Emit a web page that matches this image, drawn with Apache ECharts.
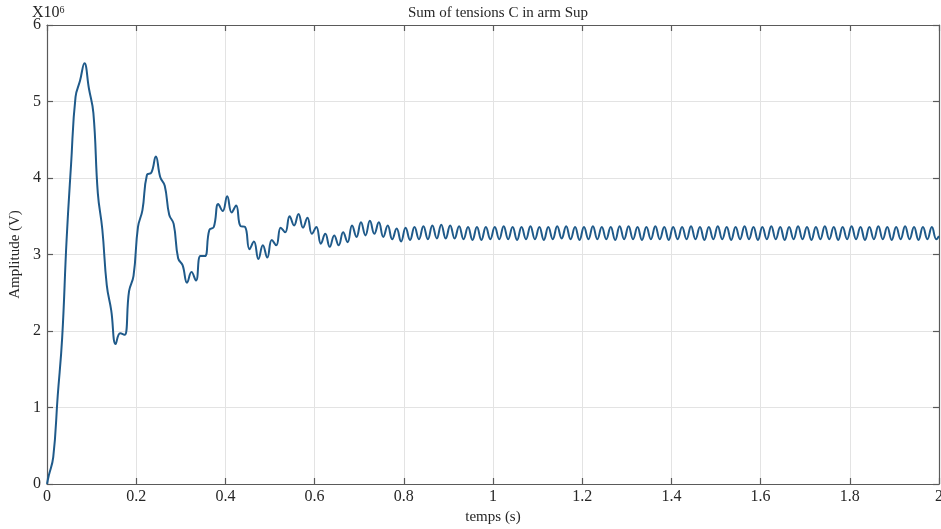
<!DOCTYPE html>
<html>
<head>
<meta charset="utf-8">
<title>Sum of tensions C in arm Sup</title>
<script src="https://cdn.jsdelivr.net/npm/echarts@6/dist/echarts.min.js"></script>
<style>
  html, body { margin: 0; padding: 0; background: #ffffff; }
  #chart { width: 941px; height: 529px; }
</style>
</head>
<body>
<div id="chart"></div>
<script>
// Sum of the arm capacitor voltages (upper arm), in units of 10^6 V.
// Samples are taken every 10 ms starting at 4 ms, so they land on the
// crests and troughs of the 50 Hz ripple.
const sampleStart = 0.004;
const sampleStep = 0.01;

// Start-up transient, 0.004 s .. 0.794 s
const transientValues = [
  0.11, 0.35, 1.15, 1.91, 3.20, 4.18, 5.06, 5.27, 5.50, 5.17,
  4.85, 3.80, 3.33, 2.60, 2.27, 1.83, 1.97, 1.95, 2.52, 2.72,
  3.36, 3.58, 4.04, 4.07, 4.28, 4.01, 3.90, 3.52, 3.40, 2.95,
  2.86, 2.63, 2.77, 2.66, 2.98, 2.98, 3.32, 3.36, 3.66, 3.57,
  3.76, 3.55, 3.64, 3.37, 3.36, 3.07, 3.17, 2.94, 3.12, 2.96,
  3.19, 3.12, 3.35, 3.29, 3.50, 3.38, 3.53, 3.35, 3.48, 3.27,
  3.36, 3.14, 3.27, 3.10, 3.25, 3.12, 3.29, 3.16, 3.38, 3.23,
  3.42, 3.25, 3.44, 3.27, 3.42, 3.23, 3.38, 3.20, 3.34, 3.17
];

// Steady state with ripple, 0.804 s .. 1.994 s
const steadyValues = [
  3.35, 3.19, 3.36, 3.20, 3.37, 3.20, 3.38, 3.21, 3.39, 3.21,
  3.38, 3.21, 3.37, 3.20, 3.36, 3.19, 3.36, 3.19, 3.36, 3.20,
  3.36, 3.20, 3.37, 3.20, 3.36, 3.19, 3.36, 3.20, 3.37, 3.20,
  3.36, 3.19, 3.36, 3.20, 3.37, 3.21, 3.37, 3.20, 3.36, 3.19,
  3.36, 3.20, 3.37, 3.20, 3.36, 3.20, 3.36, 3.19, 3.37, 3.20,
  3.37, 3.20, 3.36, 3.19, 3.36, 3.20, 3.37, 3.20, 3.36, 3.19,
  3.36, 3.20, 3.36, 3.20, 3.37, 3.20, 3.36, 3.19, 3.36, 3.20,
  3.37, 3.20, 3.36, 3.19, 3.36, 3.20, 3.37, 3.20, 3.36, 3.19,
  3.36, 3.20, 3.37, 3.20, 3.36, 3.19, 3.36, 3.20, 3.37, 3.20,
  3.36, 3.19, 3.36, 3.20, 3.37, 3.20, 3.36, 3.19, 3.36, 3.20,
  3.37, 3.20, 3.36, 3.19, 3.36, 3.20, 3.37, 3.20, 3.36, 3.19,
  3.36, 3.20, 3.37, 3.20, 3.36, 3.19, 3.36, 3.20, 3.36, 3.20
];

// Value at the very start and end of the record
const startPoint = [0, 0];
const endPoint = [2, 3.24];

const xTicks = { min: 0, max: 2, interval: 0.2 };
const yTicks = { min: 0, max: 6, interval: 1 };

const FONT = '"Liberation Serif", "DejaVu Serif", serif';
const TEXT = '#262626';
const AXIS = '#5a5a5a';

const sampled = transientValues.concat(steadyValues);
const seriesData = [startPoint].concat(
  sampled.map((v, k) => [+(sampleStart + k * sampleStep).toFixed(3), v]),
  [endPoint]
);

const chart = echarts.init(document.getElementById('chart'), null, { renderer: 'canvas' });

// Box axes on the top and right edges: line and inward ticks only
const frameAxis = {
  axisLine: { show: true, onZero: false, lineStyle: { color: AXIS, width: 1.2 } },
  axisTick: { show: true, inside: true, length: 6, lineStyle: { color: AXIS, width: 1.2 } },
  axisLabel: { show: false },
  splitLine: { show: false }
};

chart.setOption({
  animation: false,
  backgroundColor: '#ffffff',
  title: [
    {
      text: 'Sum of tensions C in arm Sup',
      left: 493, top: 1, textAlign: 'center',
      textStyle: { fontFamily: FONT, fontSize: 15, fontWeight: 'normal', color: TEXT }
    },
    {
      text: 'X10{sup|6}',
      left: 27, top: 0,
      textStyle: {
        fontFamily: FONT, fontSize: 16, fontWeight: 'normal', color: TEXT,
        rich: { sup: { fontFamily: FONT, fontSize: 10, color: TEXT, verticalAlign: 'top', padding: [0, 0, 6, 0] } }
      }
    }
  ],
  grid: {
    left: 47, right: 2, top: 25, bottom: 45,
    containLabel: false, outerBoundsMode: 'none'
  },
  xAxis: [
    {
      type: 'value', position: 'bottom',
      min: xTicks.min, max: xTicks.max, interval: xTicks.interval,
      name: 'temps (s)', nameLocation: 'middle', nameGap: 22,
      nameTextStyle: { fontFamily: FONT, fontSize: 15, color: TEXT },
      axisLine: { show: true, onZero: false, lineStyle: { color: AXIS, width: 1.2 } },
      axisTick: { show: true, inside: true, length: 6, lineStyle: { color: AXIS, width: 1.2 } },
      axisLabel: { fontFamily: FONT, fontSize: 16, color: TEXT, margin: 5 },
      splitLine: { show: true, lineStyle: { color: '#e3e3e3', width: 1 } }
    },
    Object.assign({
      type: 'value', position: 'top',
      min: xTicks.min, max: xTicks.max, interval: xTicks.interval
    }, frameAxis)
  ],
  yAxis: [
    {
      type: 'value', position: 'left',
      min: yTicks.min, max: yTicks.max, interval: yTicks.interval,
      name: 'Amplitude (V)', nameLocation: 'middle', nameGap: 21, nameRotate: 90,
      nameTextStyle: { fontFamily: FONT, fontSize: 15, color: TEXT },
      axisLine: { show: true, onZero: false, lineStyle: { color: AXIS, width: 1.2 } },
      axisTick: { show: true, inside: true, length: 6, lineStyle: { color: AXIS, width: 1.2 } },
      axisLabel: { fontFamily: FONT, fontSize: 16, color: TEXT, margin: 6 },
      splitLine: { show: true, lineStyle: { color: '#e3e3e3', width: 1 } }
    },
    Object.assign({
      type: 'value', position: 'right',
      min: yTicks.min, max: yTicks.max, interval: yTicks.interval
    }, frameAxis)
  ],
  series: [
    {
      type: 'line',
      xAxisIndex: 0, yAxisIndex: 0,
      data: seriesData,
      showSymbol: false,
      smooth: 0.45,
      lineStyle: { color: '#1f5a8a', width: 2 },
      itemStyle: { color: '#1f5a8a' }
    }
  ]
});
</script>
</body>
</html>
